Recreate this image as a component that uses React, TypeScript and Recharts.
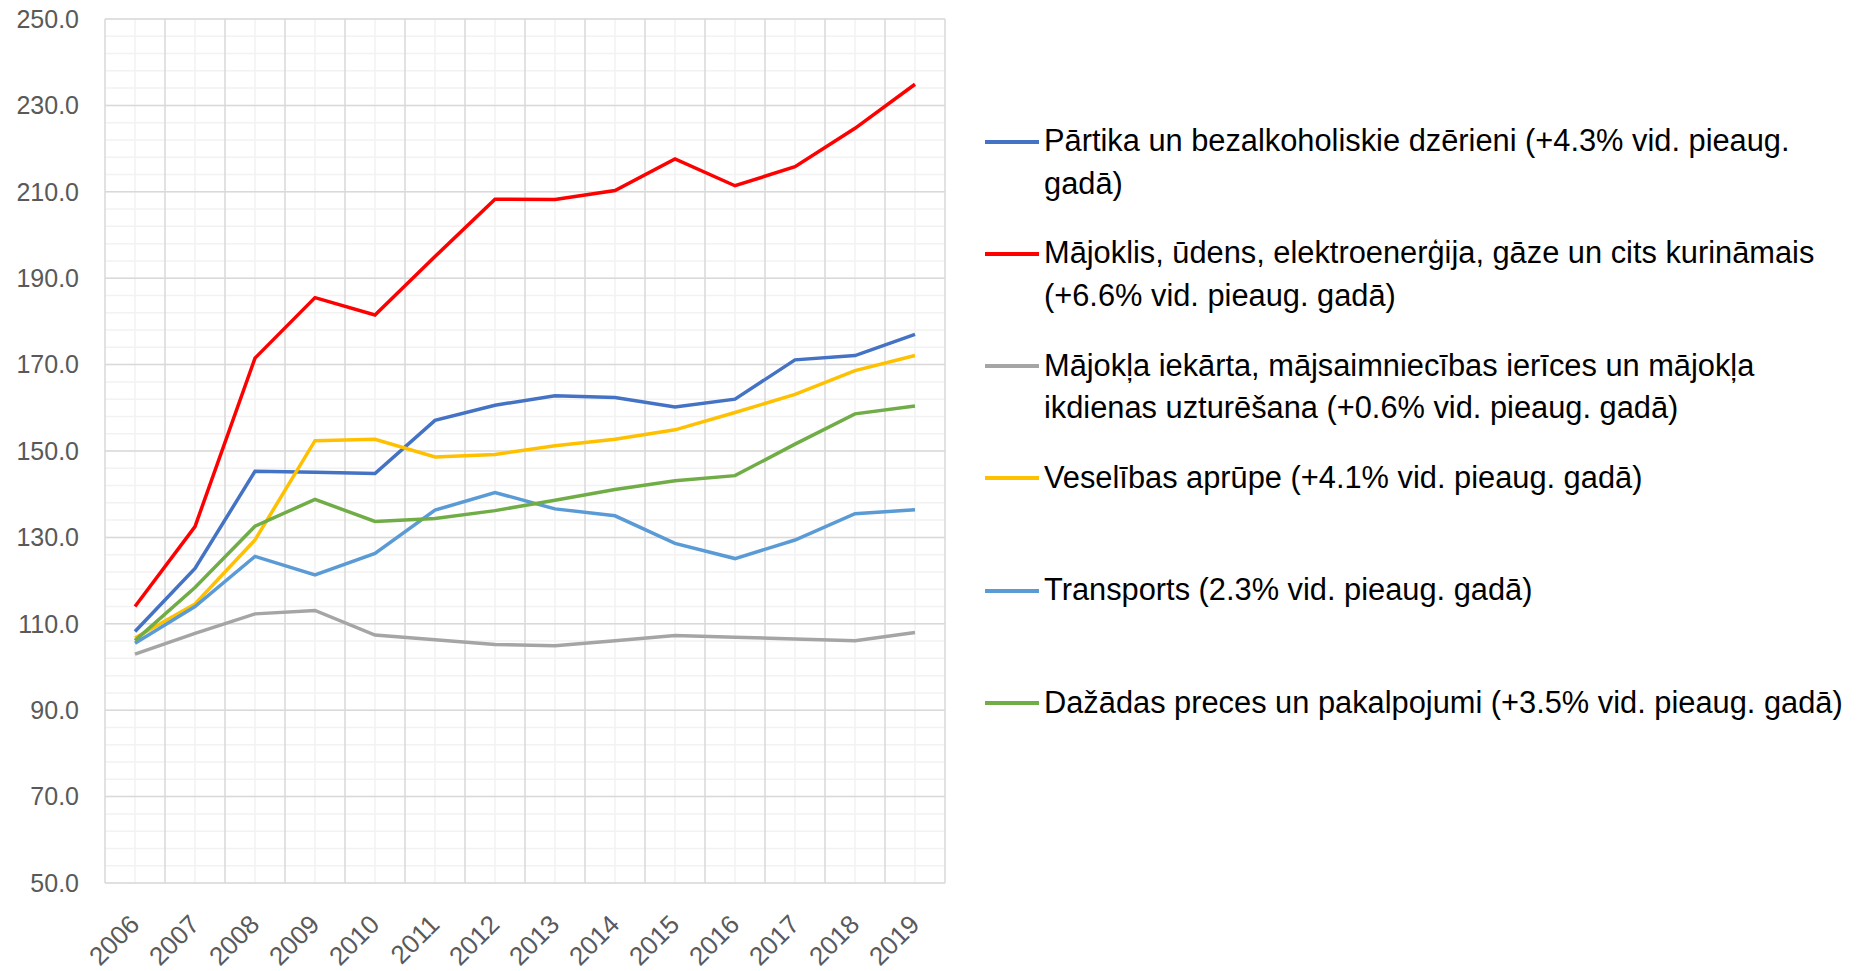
import React from 'react';
import { LineChart, Line, XAxis, YAxis, CartesianGrid } from 'recharts';

const YEARS = [2006, 2007, 2008, 2009, 2010, 2011, 2012, 2013, 2014, 2015, 2016, 2017, 2018, 2019];

const PARTIKA = [108.2, 122.8, 145.3, 145.1, 144.8, 157.1, 160.6, 162.8, 162.4, 160.2, 162.0, 171.1, 172.1, 177.0];
const MAJOKLIS = [114.0, 132.5, 171.5, 185.5, 181.5, 195.0, 208.3, 208.2, 210.3, 217.6, 211.4, 215.8, 224.7, 234.9];
const IEKARTA = [103.0, 107.8, 112.3, 113.1, 107.4, 106.3, 105.2, 104.9, 106.1, 107.3, 106.9, 106.5, 106.1, 108.0];
const VESELIBA = [106.7, 114.6, 129.4, 152.4, 152.7, 148.6, 149.2, 151.2, 152.7, 154.9, 158.9, 163.1, 168.6, 172.1];
const TRANSPORTS = [105.5, 114.0, 125.6, 121.3, 126.3, 136.3, 140.4, 136.6, 135.0, 128.6, 125.1, 129.4, 135.5, 136.4];
const DAZADAS = [106.1, 118.4, 132.6, 138.8, 133.7, 134.4, 136.2, 138.6, 141.1, 143.1, 144.3, 151.6, 158.6, 160.4];

const Y_TICKS = [50, 70, 90, 110, 130, 150, 170, 190, 210, 230, 250];
const Y_DOMAIN: [number, number] = [50, 250];
const X_DOMAIN: [number, number] = [2005.5, 2019.5];

const SERIES = [
  { key: 'partika', color: '#4472C4', values: PARTIKA, name: 'Pārtika un bezalkoholiskie dzērieni (+4.3% vid. pieaug.\ngadā)' },
  { key: 'majoklis', color: '#FF0000', values: MAJOKLIS, name: 'Mājoklis, ūdens, elektroenerģija, gāze un cits kurināmais\n(+6.6% vid. pieaug. gadā)' },
  { key: 'iekarta', color: '#A5A5A5', values: IEKARTA, name: 'Mājokļa iekārta, mājsaimniecības ierīces un mājokļa\nikdienas uzturēšana (+0.6% vid. pieaug. gadā)' },
  { key: 'veseliba', color: '#FFC000', values: VESELIBA, name: 'Veselības aprūpe (+4.1% vid. pieaug. gadā)' },
  { key: 'transports', color: '#5B9BD5', values: TRANSPORTS, name: 'Transports (2.3% vid. pieaug. gadā)' },
  { key: 'dazadas', color: '#70AD47', values: DAZADAS, name: 'Dažādas preces un pakalpojumi (+3.5% vid. pieaug. gadā)' },
];

const data = YEARS.map((year, i) => {
  const row: Record<string, number> = { year };
  SERIES.forEach((s) => { row[s.key] = s.values[i]; });
  return row;
});

// grid positions (category boundaries + minor steps of 4)
const X_BOUNDS = [...YEARS.map((y) => y - 0.5), YEARS[YEARS.length - 1] + 0.5];
const Y_MINOR: number[] = [];
for (let v = Y_DOMAIN[0]; v <= Y_DOMAIN[1]; v += 4) Y_MINOR.push(v);

const FONT = '"Liberation Sans", Arial, sans-serif';

const toPx = (axis: any, v: number, fallback: number) => {
  const s = axis && axis.scale;
  if (typeof s === 'function') {
    const r = s(v);
    if (Number.isFinite(r)) return r;
  }
  if (s && typeof s.map === 'function') {
    const r = s.map(v);
    if (Number.isFinite(r)) return r;
  }
  return fallback;
};

const xGen = (values: number[]) => ({ xAxis, offset }: any) =>
  values.map((v) => toPx(xAxis, v, offset.left + ((v - X_DOMAIN[0]) / (X_DOMAIN[1] - X_DOMAIN[0])) * offset.width));

const yGen = (values: number[]) => ({ yAxis, offset }: any) =>
  values.map((v) => toPx(yAxis, v, offset.top + ((Y_DOMAIN[1] - v) / (Y_DOMAIN[1] - Y_DOMAIN[0])) * offset.height));

const YearTick = ({ x, y, payload }: any) => (
  <g transform={`translate(${x + 6},${y + 43}) rotate(-45)`}>
    <text x={0} y={0} textAnchor="end" fill="#595959" fontSize={26} fontFamily={FONT}>
      {payload.value}
    </text>
  </g>
);

const LegendBox = () => (
  <div style={{ position: 'absolute', left: 985, top: 0, fontFamily: FONT, fontSize: 30.8, color: '#000' }}>
    {SERIES.map((s, i) => (
      <div key={s.key} style={{ position: 'absolute', top: 141 + i * 112.3 - 21, left: 0, display: 'flex', alignItems: 'flex-start' }}>
        <div style={{ width: 54, height: 4, background: s.color, marginTop: 19.5, flexShrink: 0 }} />
        <div style={{ marginLeft: 5, whiteSpace: 'pre', lineHeight: '42.5px' }}>{s.name}</div>
      </div>
    ))}
  </div>
);

export default function App() {
  return (
    <div style={{ position: 'absolute', left: 0, top: 0, width: 1860, height: 971, background: '#fff' }}>
      <LineChart width={1860} height={971} data={data} margin={{ top: 19, right: 915, bottom: 0, left: 0 }}>
        <CartesianGrid
          stroke="#F2F2F2"
          strokeWidth={1.5}
          verticalCoordinatesGenerator={xGen(YEARS)}
          horizontalCoordinatesGenerator={yGen(Y_MINOR)}
        />
        <CartesianGrid
          stroke="#D9D9D9"
          strokeWidth={1.5}
          verticalCoordinatesGenerator={xGen(X_BOUNDS)}
          horizontalCoordinatesGenerator={yGen(Y_TICKS)}
        />
        <XAxis
          dataKey="year"
          type="number"
          domain={X_DOMAIN}
          ticks={YEARS}
          interval={0}
          height={88}
          axisLine={false}
          tickLine={false}
          tickSize={0}
          tickMargin={0}
          tick={<YearTick />}
        />
        <YAxis
          domain={Y_DOMAIN}
          ticks={Y_TICKS}
          interval={0}
          width={105}
          axisLine={false}
          tickLine={false}
          tickSize={0}
          tickMargin={26}
          tickFormatter={(v: number) => v.toFixed(1)}
          tick={{ fill: '#595959', fontSize: 25, fontFamily: FONT }}
        />
        {SERIES.map((s) => (
          <Line
            key={s.key}
            type="linear"
            dataKey={s.key}
            name={s.name}
            stroke={s.color}
            strokeWidth={3.5}
            dot={false}
            activeDot={false}
            isAnimationActive={false}
          />
        ))}
      </LineChart>
      <LegendBox />
    </div>
  );
}
